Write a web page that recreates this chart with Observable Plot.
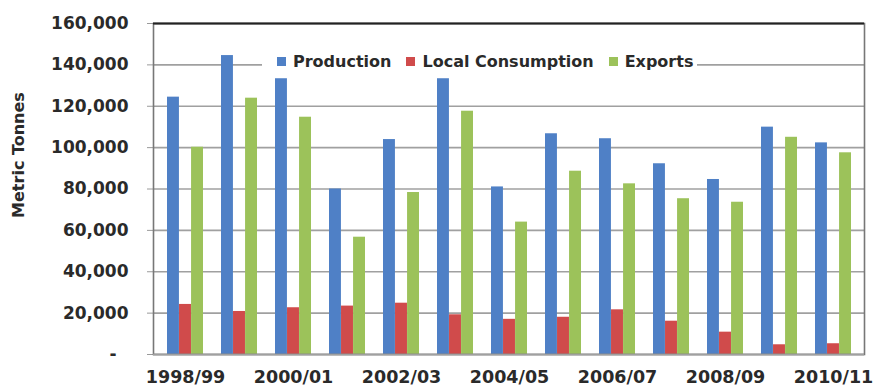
<!DOCTYPE html>
<html><head><meta charset="utf-8">
<script src="https://cdn.jsdelivr.net/npm/d3@7"></script>
<script src="https://cdn.jsdelivr.net/npm/@observablehq/plot@0.6"></script>
<style>
html,body{margin:0;padding:0;background:#fff}
#chart{position:relative;width:880px;height:387px;overflow:hidden;font-family:"DejaVu Sans",sans-serif;font-weight:bold;color:#2a2a2a}
#chart svg{display:block}
#chart svg text{fill:#2a2a2a}
#chart svg [aria-label^="x-axis"] text{font-size:17.5px}
#chart svg [aria-label^="y-axis"] text{font-size:17px}
.ylab{position:absolute;left:18px;top:155px;transform:translate(-50%,-50%) rotate(-90deg);font-size:16px;white-space:nowrap}
.legend{position:absolute;left:262px;top:50px;width:435px;height:23px;background:#fff;display:flex;align-items:center;padding-left:15px;box-sizing:border-box;font-size:16px;white-space:nowrap}
.item{display:flex;align-items:center;margin-right:15px;flex:none;white-space:nowrap}
.sw{display:inline-block;width:9px;height:9px;margin-right:7px;flex:none}
</style>
</head><body>
<div id="chart"></div>
<script>
const years = ["1998/99","1999/00","2000/01","2001/02","2002/03","2003/04","2004/05","2005/06","2006/07","2007/08","2008/09","2009/10","2010/11"];
const production  = [124400,144500,133300,80000,103900,133300,81000,106700,104300,92200,84600,109900,102300];
const consumption = [24200,20800,22600,23400,24800,19200,17000,18000,21600,16100,10800,4700,5200];
const exportsVals = [100200,123900,114700,56700,78300,117600,64000,88600,82500,75300,73600,105000,97500];
const seriesNames = ["Production","Local Consumption","Exports"];
const seriesColors = ["#4F80C6","#D04B4B","#9CC25A"];
const yTicks = [0,20000,40000,60000,80000,100000,120000,140000,160000];
const xTickLabels = ["1998/99","2000/01","2002/03","2004/05","2006/07","2008/09","2010/11"];
const yLabel = "Metric Tonnes";

const seriesValues = [production, consumption, exportsVals];
const rows = [];
seriesNames.forEach((s, si) => years.forEach((y, i) => rows.push({series: s, year: y, value: seriesValues[si][i]})));

const W = 880, H = 387, mL = 153, mR = 16, mT = 23, mB = 33;
const pIn = 0.34, pOut = 0.17;
const step = (W - mL - mR) / (years.length - pIn + 2 * pOut);
const third = step * (1 - pIn) / 3;

const fmt = d3.format(",");
const barMarks = seriesNames.map((s, si) => Plot.barY(rows.filter(r => r.series === s), {
  x: "year", y: "value", fill: seriesColors[si],
  insetLeft: si * third, insetRight: (2 - si) * third
}));

const chart = Plot.plot({
  width: W, height: H,
  marginLeft: mL, marginRight: mR, marginTop: mT, marginBottom: mB,
  style: {fontFamily: "DejaVu Sans", fontWeight: "bold", color: "#9a9a9a", fontSize: "17px", background: "#fff"},
  x: {domain: years, paddingInner: pIn, paddingOuter: pOut, label: null, tickSize: 0, tickPadding: 16,
      tickFormat: d => xTickLabels.includes(d) ? d : ""},
  y: {domain: [0, 160000], ticks: yTicks, label: null, tickSize: 6, tickPadding: 19,
      tickFormat: d => d === 0 ? "-\u00a0\u00a0" : fmt(d)},
  marks: [
    Plot.ruleY(yTicks, {stroke: "#a0a0a0", strokeWidth: 1.6}),
    ...barMarks,
    Plot.frame({stroke: "#777", strokeWidth: 1.6}),
    Plot.ruleY([0], {stroke: "#a0a0a0", strokeWidth: 1.6}),
    Plot.ruleY([160000], {stroke: "#222", strokeWidth: 2})
  ]
});

const root = document.getElementById("chart");
root.appendChild(chart);
const yl = document.createElement("div");
yl.className = "ylab"; yl.textContent = yLabel;
root.appendChild(yl);
const lg = document.createElement("div");
lg.className = "legend";
seriesNames.forEach((s, i) => {
  const it = document.createElement("div"); it.className = "item";
  const sw = document.createElement("span"); sw.className = "sw"; sw.style.background = seriesColors[i];
  const tx = document.createElement("span"); tx.textContent = s;
  it.appendChild(sw); it.appendChild(tx); lg.appendChild(it);
});
root.appendChild(lg);
</script>
</body></html>
